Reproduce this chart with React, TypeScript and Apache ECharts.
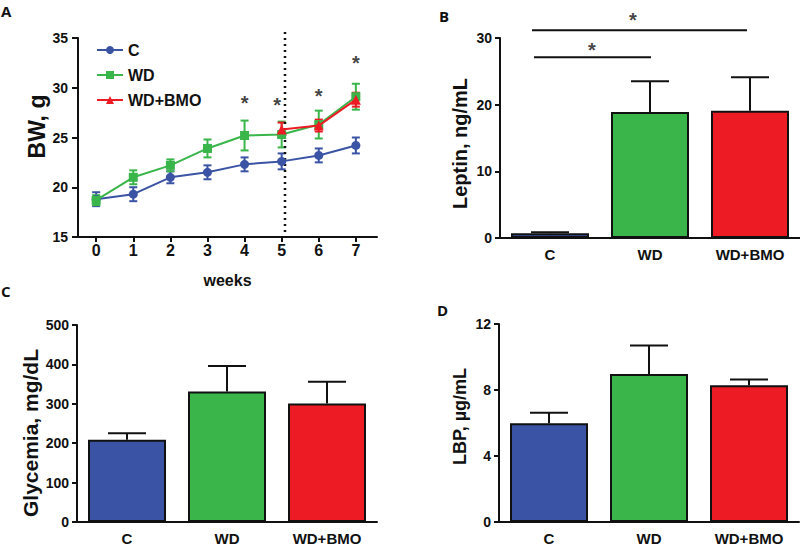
import React, { useEffect, useRef } from "react";
import * as echarts from "echarts";

// ---- Panel A: body weight over weeks ----
const weeks = [0, 1, 2, 3, 4, 5, 6, 7];
const bwC = [18.8, 19.3, 21.0, 21.5, 22.3, 22.6, 23.2, 24.2];
const bwCErr = [0.7, 0.7, 0.6, 0.7, 0.7, 0.8, 0.7, 0.8];
const bwWD = [18.7, 21.0, 22.2, 23.9, 25.2, 25.3, 26.3, 29.1];
const bwWDErr = [0.5, 0.7, 0.6, 0.9, 1.5, 1.3, 1.4, 1.3];
const bwBMOWeeks = [5, 6, 7];
const bwBMO = [25.8, 26.2, 28.8];
const bwBMOErr = [0.7, 0.6, 0.7];
const bwStars: number[][] = [[4, 29.0], [4.88, 28.8], [6, 29.7], [7, 33.0]];
const dietSwitchWeek = 5.09;
const dietSwitchRange = [35.6, 15.4];

// ---- Panels B-D: group bars ----
const groups = ["C", "WD", "WD+BMO"];
const leptin = [0.7, 18.9, 19.1];
const leptinErr = [0.15, 4.6, 5.0];
const glycemia = [209, 331, 301];
const glycemiaErr = [16, 65, 55];
const lbp = [5.98, 8.97, 8.29];
const lbpErr = [0.64, 1.73, 0.34];
// significance brackets in panel B (positions in category index units)
const leptinBrackets = [
  { from: -0.18, to: 1.97, y: 31.15, starX: 0.83, starY: 33.4 },
  { from: -0.16, to: 1.01, y: 27.1, starX: 0.42, starY: 28.9 },
];

const BLUE = "#3a53a4";
const GREEN = "#39b54a";
const RED = "#ed1c24";
const groupColors = [BLUE, GREEN, RED];
const FONT = "Liberation Sans";

function errBars(color: string, capHalf: number, both: boolean) {
  return (params: any, api: any) => {
    const x = api.value(0);
    const v = api.value(1);
    const e = api.value(2);
    const top = api.coord([x, v + e]);
    const bot = api.coord([x, both ? v - e : v]);
    const half = capHalf > 0 ? capHalf : api.size([1, 0])[0] * 0.19;
    const style = { stroke: color, lineWidth: 2 };
    const children: any[] = [
      { type: "line", shape: { x1: top[0], y1: top[1], x2: bot[0], y2: bot[1] }, style },
      { type: "line", shape: { x1: top[0] - half, y1: top[1], x2: top[0] + half, y2: top[1] }, style },
    ];
    if (both) {
      children.push({ type: "line", shape: { x1: bot[0] - half, y1: bot[1], x2: bot[0] + half, y2: bot[1] }, style });
    }
    return { type: "group", children };
  };
}

const axisLineStyle = { onZero: false, lineStyle: { color: "#111", width: 2 } };
const tickStyle = { show: true, length: 5, lineStyle: { color: "#111", width: 2 } };
const tickLabel = { color: "#111", fontFamily: FONT, fontWeight: "bold" as const, fontSize: 14, margin: 8 };
const catLabel = { color: "#111", fontFamily: FONT, fontWeight: "bold" as const, fontSize: 15, margin: 9 };
const yName = (size: number, padding: number[]) => ({
  color: "#111", fontFamily: FONT, fontWeight: "bold" as const, fontSize: size, padding,
});
const starLabel = {
  show: true, formatter: "*", position: "inside", offset: [0, 5],
  color: "#111", fontFamily: FONT, fontWeight: "bold", fontSize: 20,
};

function barSeries(vals: number[], err: number[], xi: number, yi: number) {
  return [
    {
      type: "bar",
      xAxisIndex: xi,
      yAxisIndex: yi,
      barWidth: "78%",
      data: vals.map((v, i) => ({
        value: v,
        itemStyle: { color: groupColors[i], borderColor: "#111", borderWidth: 2 },
      })),
    },
    {
      type: "custom",
      xAxisIndex: xi,
      yAxisIndex: yi,
      z: 5,
      renderItem: errBars("#111", 0, false),
      data: vals.map((v, i) => [i, v, err[i]]),
    },
  ];
}

export default function App() {
  const ref = useRef<HTMLDivElement>(null);
  useEffect(() => {
    if (!ref.current) return;
    const chart = echarts.init(ref.current, null, { renderer: "svg" });
    const option: any = {
      animation: false,
      backgroundColor: "#fff",
      graphic: [
        { type: "text", left: 1, top: 3, style: { text: "A", font: "bold 15px 'Open Sans'", fill: "#111" } },
        { type: "text", left: 439, top: 8, style: { text: "B", font: "bold 15px 'Open Sans'", fill: "#111" } },
        { type: "text", left: 1, top: 283, style: { text: "C", font: "bold 15px 'Open Sans'", fill: "#111" } },
        { type: "text", left: 437, top: 302, style: { text: "D", font: "bold 15px 'Open Sans'", fill: "#111" } },
      ],
      legend: {
        data: ["C", "WD", "WD+BMO"],
        orient: "vertical",
        left: 91,
        top: 37,
        itemWidth: 26,
        itemHeight: 10,
        itemGap: 9,
        textStyle: { color: "#111", fontFamily: FONT, fontWeight: "bold", fontSize: 16, lineHeight: 15 },
      },
      grid: [
        { left: 78, top: 38, width: 299, height: 199 },
        { left: 500, top: 38, width: 300, height: 200 },
        { left: 77, top: 325, width: 300, height: 199 },
        { left: 499, top: 324, width: 300, height: 199 },
      ],
      xAxis: [
        {
          gridIndex: 0,
          type: "value",
          min: -0.49,
          max: 7.57,
          name: "weeks",
          nameLocation: "middle",
          nameGap: 35,
          nameTextStyle: { color: "#111", fontFamily: FONT, fontWeight: "bold", fontSize: 16 },
          axisLine: axisLineStyle,
          axisTick: { ...tickStyle, customValues: weeks },
          axisLabel: { ...tickLabel, fontSize: 16, margin: 5, customValues: weeks },
          splitLine: { show: false },
        },
        {
          gridIndex: 1, type: "category", data: groups,
          axisLine: axisLineStyle, axisTick: { show: false }, axisLabel: catLabel,
        },
        {
          gridIndex: 2, type: "category", data: groups,
          axisLine: axisLineStyle, axisTick: { show: false }, axisLabel: catLabel,
        },
        {
          gridIndex: 3, type: "category", data: groups,
          axisLine: axisLineStyle, axisTick: { show: false }, axisLabel: catLabel,
        },
        { gridIndex: 1, type: "value", min: -0.5, max: 2.5, show: false },
      ],
      yAxis: [
        {
          gridIndex: 0, type: "value", min: 15, max: 35, interval: 5,
          name: "BW, g", nameLocation: "middle", nameGap: 27, nameTextStyle: yName(23, [0, 0, 0, 22]),
          axisLine: { show: true, ...axisLineStyle }, axisTick: { ...tickStyle, length: 6 },
          axisLabel: { ...tickLabel, margin: 10 }, splitLine: { show: false },
        },
        {
          gridIndex: 1, type: "value", min: 0, max: 30, interval: 10,
          name: "Leptin, ng/mL", nameLocation: "middle", nameGap: 30, nameTextStyle: yName(20, [0, 11, 0, 0]),
          axisLine: { show: true, ...axisLineStyle }, axisTick: tickStyle,
          axisLabel: tickLabel, splitLine: { show: false },
        },
        {
          gridIndex: 2, type: "value", min: 0, max: 500, interval: 100,
          name: "Glycemia, mg/dL", nameLocation: "middle", nameGap: 36, nameTextStyle: yName(21, [0, 19, 0, 0]),
          axisLine: { show: true, ...axisLineStyle }, axisTick: tickStyle,
          axisLabel: tickLabel, splitLine: { show: false },
        },
        {
          gridIndex: 3, type: "value", min: 0, max: 12, interval: 4,
          name: "LBP, µg/mL", nameLocation: "middle", nameGap: 30, nameTextStyle: yName(18, [0, 0, 0, 13]),
          axisLine: { show: true, ...axisLineStyle }, axisTick: tickStyle,
          axisLabel: tickLabel, splitLine: { show: false },
        },
      ],
      series: [
        // Panel A
        {
          type: "line", name: "__switch", xAxisIndex: 0, yAxisIndex: 0, clip: false, silent: true,
          symbol: "none",
          lineStyle: { color: "#111", width: 2.5, type: [2, 4] },
          data: dietSwitchRange.map((y) => [dietSwitchWeek, y]),
        },
        {
          type: "custom", xAxisIndex: 0, yAxisIndex: 0, z: 3,
          renderItem: errBars(BLUE, 4, true),
          data: weeks.map((w, i) => [w, bwC[i], bwCErr[i]]),
        },
        {
          type: "custom", xAxisIndex: 0, yAxisIndex: 0, z: 3,
          renderItem: errBars(GREEN, 4, true),
          data: weeks.map((w, i) => [w, bwWD[i], bwWDErr[i]]),
        },
        {
          type: "custom", xAxisIndex: 0, yAxisIndex: 0, z: 3,
          renderItem: errBars(RED, 4, true),
          data: bwBMOWeeks.map((w, i) => [w, bwBMO[i], bwBMOErr[i]]),
        },
        {
          type: "line", name: "C", xAxisIndex: 0, yAxisIndex: 0, z: 4,
          symbol: "circle", symbolSize: 9, color: BLUE,
          lineStyle: { width: 2, color: BLUE }, itemStyle: { color: BLUE },
          data: weeks.map((w, i) => [w, bwC[i]]),
        },
        {
          type: "line", name: "WD", xAxisIndex: 0, yAxisIndex: 0, z: 4,
          symbol: "rect", symbolSize: 9, color: GREEN,
          lineStyle: { width: 2, color: GREEN }, itemStyle: { color: GREEN },
          data: weeks.map((w, i) => [w, bwWD[i]]),
        },
        {
          type: "line", name: "WD+BMO", xAxisIndex: 0, yAxisIndex: 0, z: 5,
          symbol: "triangle", symbolSize: 10, color: RED,
          lineStyle: { width: 2, color: RED }, itemStyle: { color: RED },
          data: bwBMOWeeks.map((w, i) => [w, bwBMO[i]]),
        },
        {
          type: "scatter", xAxisIndex: 0, yAxisIndex: 0, clip: false, silent: true,
          symbolSize: 1, itemStyle: { color: "rgba(0,0,0,0)" },
          label: starLabel,
          data: bwStars,
        },
        // Panel B
        ...barSeries(leptin, leptinErr, 1, 1),
        ...leptinBrackets.map((b) => ({
          type: "line", xAxisIndex: 4, yAxisIndex: 1, clip: false, silent: true, symbol: "none",
          lineStyle: { color: "#111", width: 2 },
          data: [[b.from, b.y], [b.to, b.y]],
        })),
        {
          type: "scatter", xAxisIndex: 4, yAxisIndex: 1, clip: false, silent: true,
          symbolSize: 1, itemStyle: { color: "rgba(0,0,0,0)" },
          label: starLabel,
          data: leptinBrackets.map((b) => [b.starX, b.starY]),
        },
        // Panel C
        ...barSeries(glycemia, glycemiaErr, 2, 2),
        // Panel D
        ...barSeries(lbp, lbpErr, 3, 3),
      ],
    };
    chart.setOption(option);
    return () => chart.dispose();
  }, []);
  return (
    <div
      ref={ref}
      style={{ position: "fixed", left: 0, top: 0, width: 800, height: 546, background: "#fff" }}
    />
  );
}
